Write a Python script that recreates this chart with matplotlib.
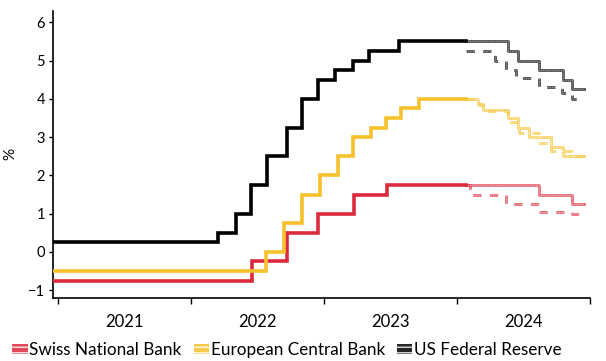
import numpy as np
import pandas as pd
import matplotlib
matplotlib.use("Agg")
import matplotlib.pyplot as plt
import matplotlib.dates as mdates
from matplotlib.patches import Patch

plt.rcParams['font.family'] = ['Lato', 'DejaVu Sans']
plt.rcParams['hatch.linewidth'] = 1.0

# policy rates (actual), step changes
fed_dates = ["2020-12-20", "2022-03-17", "2022-05-05", "2022-06-16", "2022-07-28", "2022-09-22",
             "2022-11-03", "2022-12-15", "2023-02-02", "2023-03-23", "2023-05-04", "2023-07-27", "2024-01-25"]
fed_rates = [0.25, 0.5, 1.0, 1.75, 2.5, 3.25, 4.0, 4.5, 4.75, 5.0, 5.25, 5.5, 5.5]

ecb_dates = ["2020-12-20", "2022-07-27", "2022-09-14", "2022-11-02", "2022-12-21", "2023-02-08",
             "2023-03-22", "2023-05-10", "2023-06-21", "2023-08-02", "2023-09-20", "2024-01-25"]
ecb_rates = [-0.5, 0.0, 0.75, 1.5, 2.0, 2.5, 3.0, 3.25, 3.5, 3.75, 4.0, 4.0]

snb_dates = ["2020-12-20", "2022-06-17", "2022-09-23", "2022-12-16", "2023-03-24", "2023-06-23", "2024-01-25"]
snb_rates = [-0.75, -0.25, 0.5, 1.0, 1.5, 1.75, 1.75]

# forecast paths (stepped) and alternative path (dashed)
fed_fc_dates = ["2024-01-25", "2024-05-20", "2024-06-17", "2024-08-14", "2024-10-18", "2024-11-13", "2024-12-14"]
fed_fc_rates = [5.5, 5.25, 5.0, 4.75, 4.5, 4.25, 4.25]
fed_alt_dates = ["2024-01-25", "2024-04-16", "2024-05-14", "2024-06-11", "2024-08-14", "2024-10-15", "2024-11-13", "2024-12-14"]
fed_alt_rates = [5.25, 5.0, 4.75, 4.55, 4.3, 4.15, 4.0, 4.0]

ecb_fc_dates = ["2024-01-25", "2024-02-27", "2024-03-14", "2024-05-20", "2024-06-17", "2024-07-17", "2024-09-15", "2024-10-18", "2024-12-14"]
ecb_fc_rates = [4.0, 3.87, 3.7, 3.5, 3.25, 3.0, 2.75, 2.5, 2.5]
ecb_alt_dates = ["2024-01-25", "2024-03-01", "2024-03-14", "2024-05-20", "2024-06-19", "2024-08-14", "2024-09-15", "2024-11-13", "2024-12-14"]
ecb_alt_rates = [4.0, 3.85, 3.67, 3.4, 3.12, 2.85, 2.65, 2.5, 2.5]

snb_fc_dates = ["2024-01-25", "2024-08-14", "2024-11-13", "2024-12-14"]
snb_fc_rates = [1.75, 1.5, 1.25, 1.25]
snb_alt_dates = ["2024-01-25", "2024-02-05", "2024-05-14", "2024-08-14", "2024-11-13", "2024-12-14"]
snb_alt_rates = [1.75, 1.5, 1.25, 1.05, 1.0, 1.0]

labels = ["Swiss National Bank", "European Central Bank", "US Federal Reserve"]
colors = ["#dc2a3c", "#f7c12c", "#000000"]

fig = plt.figure(figsize=(6.06, 3.61), dpi=100)
ax = fig.add_axes([0.088, 0.175, 0.886, 0.795])

series = [
    (snb_dates, snb_rates, snb_fc_dates, snb_fc_rates, snb_alt_dates, snb_alt_rates),
    (ecb_dates, ecb_rates, ecb_fc_dates, ecb_fc_rates, ecb_alt_dates, ecb_alt_rates),
    (fed_dates, fed_rates, fed_fc_dates, fed_fc_rates, fed_alt_dates, fed_alt_rates),
]
for (d, r, fd, fr, ad, ar), c in zip(series, colors):
    ax.step(pd.to_datetime(d), r, where="post", color=c, lw=2.6, solid_joinstyle="miter", zorder=3)
    # textured forecast lines
    ax.step(pd.to_datetime(fd), fr, where="post", color=c, lw=2.0, alpha=0.7, zorder=2)
    ax.step(pd.to_datetime(fd), fr, where="post", color="white", lw=0.5, ls=(0, (1, 1.5)), alpha=0.8, zorder=2.5)
    ax.step(pd.to_datetime(ad), ar, where="post", color=c, lw=2.0, alpha=0.7, ls=(0, (3, 3)), zorder=2)
    ax.step(pd.to_datetime(ad), ar, where="post", color="white", lw=0.5, ls=(0, (1, 1.5)), alpha=0.8, zorder=2.5)

ax.set_xlim(pd.Timestamp("2020-12-20"), pd.Timestamp("2025-01-01"))
ax.set_ylim(-1.2, 6.3)
ax.set_yticks(range(-1, 7))
ax.set_ylabel("%", fontsize=11, labelpad=8)

ax.xaxis.set_major_locator(mdates.YearLocator())
ax.xaxis.set_major_formatter(plt.NullFormatter())
ax.xaxis.set_minor_locator(mdates.MonthLocator(bymonth=7, bymonthday=2))
ax.xaxis.set_minor_formatter(mdates.DateFormatter("%Y"))
ax.tick_params(axis="x", which="minor", length=0, labelsize=12, pad=12)
ax.tick_params(axis="x", which="major", length=4, width=1)
ax.tick_params(axis="y", length=3, width=1, labelsize=10.5, pad=3)

for s in ["top", "right"]:
    ax.spines[s].set_visible(False)
for s in ["left", "bottom"]:
    ax.spines[s].set_linewidth(1.2)

handles = [Patch(facecolor=c, edgecolor="white", hatch="---", lw=0, alpha=0.85) for c in colors]
fig.legend(handles, labels, loc="lower left", bbox_to_anchor=(-0.005, -0.035), ncol=3, frameon=False,
           fontsize=12.3, handlelength=0.9, handleheight=0.55, handletextpad=0.1, columnspacing=0.7)

fig.savefig("out.png", dpi=100)
